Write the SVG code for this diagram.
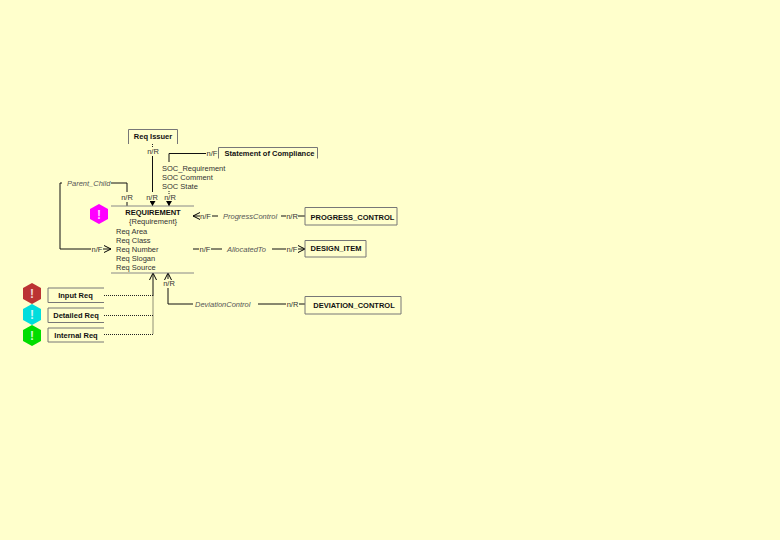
<svg xmlns="http://www.w3.org/2000/svg" width="780" height="540" viewBox="0 0 780 540">
<style>
text{font-family:"Liberation Sans",Arial,sans-serif;font-size:7.500px;fill:#333}
.b{font-weight:bold;fill:#111}
.i{font-style:italic;fill:#555}
.m{text-anchor:middle}
.box{fill:#ffffcc;stroke:#777;stroke-width:1}
.l{fill:none;stroke:#111;stroke-width:1}
.t{fill:none;stroke:#888;stroke-width:1}
.d{fill:none;stroke:#222;stroke-width:1;stroke-dasharray:1 1}
.w{fill:#fff;opacity:.8;font-weight:bold;font-size:12px;text-anchor:middle}
</style>
<defs>
<marker id="f" markerWidth="6" markerHeight="6" refX="5" refY="3" orient="auto" markerUnits="userSpaceOnUse"><path d="M0 0L5 3L0 6z" fill="#000"/></marker>
<marker id="o" markerWidth="8" markerHeight="8" refX="7" refY="4" orient="auto" markerUnits="userSpaceOnUse"><path d="M0 0.500L7 4L0 7.500" fill="none" stroke="#000"/></marker>
</defs>
<rect width="780" height="540" fill="#ffffcc"/>
<g id="connectors">
<path class="d" d="M152.500 144V147"/>
<path class="l" d="M152.500 156V192"/>
<path class="l" d="M152.500 202V206" marker-end="url(#f)"/>
<path class="l" d="M169 162V153.500H206"/>
<path class="d" d="M169 191V194"/>
<path class="l" d="M169 202V206" marker-end="url(#f)"/>
<path class="l" d="M111 183H127V192M127 202V206"/>
<path class="l" d="M62 183H60V249H91"/>
<path class="l" d="M103 249H111" marker-end="url(#o)"/>
<path class="l" d="M200 216H193" marker-end="url(#o)"/>
<path class="l" d="M212 216H218M281 216H286M298 216H305"/>
<path class="l" d="M193 249H199M211 249H222M272 249H286"/>
<path class="l" d="M298 249H305" marker-end="url(#o)"/>
<path class="l" d="M153 296V273" marker-end="url(#o)"/>
<path class="d" d="M104 295.500H153M104 315.500H153M104 334.500H153V296"/>
<path class="l" d="M168 279V273" marker-end="url(#o)"/>
<path class="l" d="M168 288V304H193M258 304H286M299 304H305"/>
</g>
<path class="t" d="M111 206H194M111 273H194"/>
<g id="req-issuer"><path class="box" d="M128.500 144V129.500H177.500V144"/><text class="b m" x="153" y="139">Req Issuer</text></g>
<g id="soc"><path class="box" d="M218.500 158.500V147.500H317.500V158.500"/><text class="b m" x="269.500" y="155.500">Statement of Compliance</text></g>
<g id="soc-attrs"><text x="162" y="170.500">SOC_Requirement</text><text x="162" y="179.500">SOC Comment</text><text x="162" y="188.500">SOC State</text></g>
<g id="requirement">
<path d="M99 204L108 209V219L99 224L90 219V209z" fill="#f0f"/><text class="w" x="99" y="218.500">!</text>
<text class="b m" x="153" y="214.500">REQUIREMENT</text><text class="m" x="153" y="223.500">{Requirement}</text>
<text x="116" y="233.500">Req Area</text><text x="116" y="242.500">Req Class</text><text x="116" y="251.500">Req Number</text><text x="116" y="260.500">Req Slogan</text><text x="116" y="269.500">Req Source</text>
</g>
<g id="progress"><path class="box" d="M305 207.500H397V225H305z"/><text class="b m" x="352.500" y="219.500">PROGRESS_CONTROL</text></g>
<g id="design"><path class="box" d="M305 240.500H366V257H305z"/><text class="b m" x="336" y="251">DESIGN_ITEM</text></g>
<g id="deviation"><path class="box" d="M305 296.500H401V314H305z"/><text class="b m" x="354" y="307.500">DEVIATION_CONTROL</text></g>
<g id="input"><path class="box" d="M104 288H48V302.500H104"/><text class="b m" x="75.500" y="298">Input Req</text><path d="M32 283L41 288V299L32 304L23 299V288z" fill="#b33"/><text class="w" x="32" y="298">!</text></g>
<g id="detailed"><path class="box" d="M104 308H48V322.500H104"/><text class="b m" x="76" y="318">Detailed Req</text><path d="M32 304L41 309V320L32 325L23 320V309z" fill="#0dd"/><text class="w" x="32" y="319">!</text></g>
<g id="internal"><path class="box" d="M104 328H48V342H104"/><text class="b m" x="76" y="337.500">Internal Req</text><path d="M32 325L41 330V341L32 346L23 341V330z" fill="#0d0"/><text class="w" x="32" y="340">!</text></g>
<g id="labels">
<text class="m" x="153" y="153.500">n/R</text><text class="m" x="212" y="155.500">n/F</text>
<text class="i" x="67" y="185.500">Parent_Child</text>
<text class="m" x="127" y="200">n/R</text><text class="m" x="152" y="200">n/R</text><text class="m" x="170" y="200">n/R</text>
<text class="m" x="97" y="251.500">n/F</text><text class="m" x="205.500" y="218.500">n/F</text><text class="i" x="223" y="218.500">ProgressControl</text><text class="m" x="292" y="218.500">n/R</text>
<text class="m" x="205" y="251.500">n/F</text><text class="i" x="227" y="251.500">AllocatedTo</text><text class="m" x="292" y="251.500">n/F</text>
<text class="m" x="169" y="286">n/R</text><text class="i" x="195" y="306.500">DeviationControl</text><text class="m" x="292.500" y="306.500">n/R</text>
</g>
</svg>
